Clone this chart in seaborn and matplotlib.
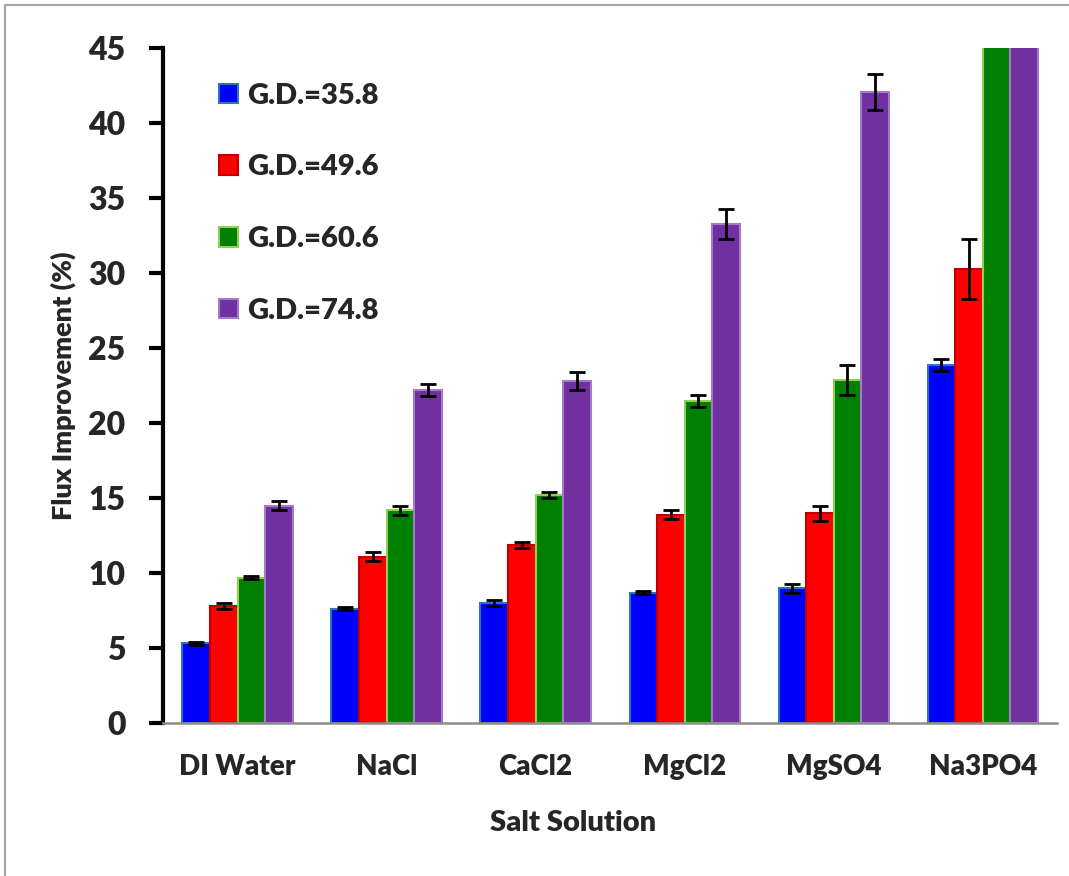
import matplotlib
matplotlib.use("Agg")
import matplotlib.pyplot as plt
import matplotlib.patches as mpatches
import seaborn as sns
import pandas as pd

salts = ["DI Water", "NaCl", "CaCl2", "MgCl2", "MgSO4", "Na3PO4"]
series = ["G.D.=35.8", "G.D.=49.6", "G.D.=60.6", "G.D.=74.8"]

gd358 = [5.3, 7.6, 8.0, 8.7, 9.0, 23.9]
gd496 = [7.8, 11.1, 11.9, 13.9, 14.0, 30.3]
gd606 = [9.7, 14.2, 15.2, 21.5, 22.9, 58.0]
gd748 = [14.5, 22.2, 22.8, 33.3, 42.1, 71.0]

err358 = [0.1, 0.1, 0.2, 0.1, 0.3, 0.4]
err496 = [0.2, 0.3, 0.2, 0.3, 0.5, 2.0]
err606 = [0.1, 0.3, 0.2, 0.4, 1.0, 0.0]
err748 = [0.3, 0.4, 0.6, 1.0, 1.2, 0.0]

values = [gd358, gd496, gd606, gd748]
errors = [err358, err496, err606, err748]

fill_colors = ["#0000FF", "#FF0000", "#008000", "#7030A0"]
edge_colors = ["#2E75B6", "#C00000", "#92D050", "#A27CC8"]

df = pd.DataFrame(
    [(s, name, v) for name, vals in zip(series, values) for s, v in zip(salts, vals)],
    columns=["salt", "series", "value"],
)

WEIGHT = "heavy"

sns.set_theme(style="white")
plt.rcParams["font.family"] = ["Lato", "DejaVu Sans"]
plt.rcParams["font.weight"] = WEIGHT

fig = plt.figure(figsize=(10.69, 8.76), dpi=100)
ax = fig.add_axes([0.1525, 0.1747, 0.8365, 0.7703])

sns.barplot(
    data=df, x="salt", y="value", hue="series", order=salts, hue_order=series,
    palette=fill_colors, width=0.74, gap=0, errorbar=None, ax=ax, legend=False,
    saturation=1,
)

for container, ec, vals, errs in zip(ax.containers, edge_colors, values, errors):
    xs = []
    for bar in container:
        bar.set_edgecolor(ec)
        bar.set_linewidth(1.5)
        xs.append(bar.get_x() + bar.get_width() / 2)
    pts = [(x, v, e) for x, v, e in zip(xs, vals, errs) if e > 0]
    if pts:
        px, py, pe = zip(*pts)
        ax.errorbar(px, py, yerr=pe, fmt="none", ecolor="black",
                    elinewidth=2, capsize=6, capthick=2, zorder=5)

ax.set_ylim(0, 45)
ax.set_xlim(-0.5, 5.5)
ax.set_yticks(range(0, 46, 5))
ax.tick_params(axis="y", labelsize=23, length=10, width=3, color="black",
               direction="out", left=True, pad=17)
ax.tick_params(axis="x", labelsize=20, length=0, pad=22)
for lbl in ax.get_yticklabels() + ax.get_xticklabels():
    lbl.set_fontweight(WEIGHT)

for side in ("top", "right"):
    ax.spines[side].set_visible(False)
ax.spines["left"].set_color("black")
ax.spines["left"].set_linewidth(3)
ax.spines["bottom"].set_color("#8C8C8C")
ax.spines["bottom"].set_linewidth(1.8)

ax.set_xlabel("Salt Solution", fontsize=21, fontweight=WEIGHT)
ax.set_ylabel("Flux Improvement (%)", fontsize=19.5, fontweight=WEIGHT)
ax.xaxis.set_label_coords(0.459, -0.129)
ax.yaxis.set_label_coords(-0.097, 0.5)

handles = [mpatches.Patch(facecolor=fc, edgecolor=ec, linewidth=1.5)
           for fc, ec in zip(fill_colors, edge_colors)]
ax.legend(handles, series, loc="upper left", bbox_to_anchor=(0.033, 0.988),
          frameon=False, prop={"size": 21, "weight": WEIGHT},
          handlelength=0.65, handleheight=0.65, handletextpad=0.32,
          labelspacing=1.57)

# outer chart-area frame
fig.add_artist(mpatches.Rectangle((0.005, -0.05), 1.2, 1.044, transform=fig.transFigure,
                                  fill=False, edgecolor="#A6A6A6", linewidth=1.5))

fig.savefig("out.png", dpi=100)
